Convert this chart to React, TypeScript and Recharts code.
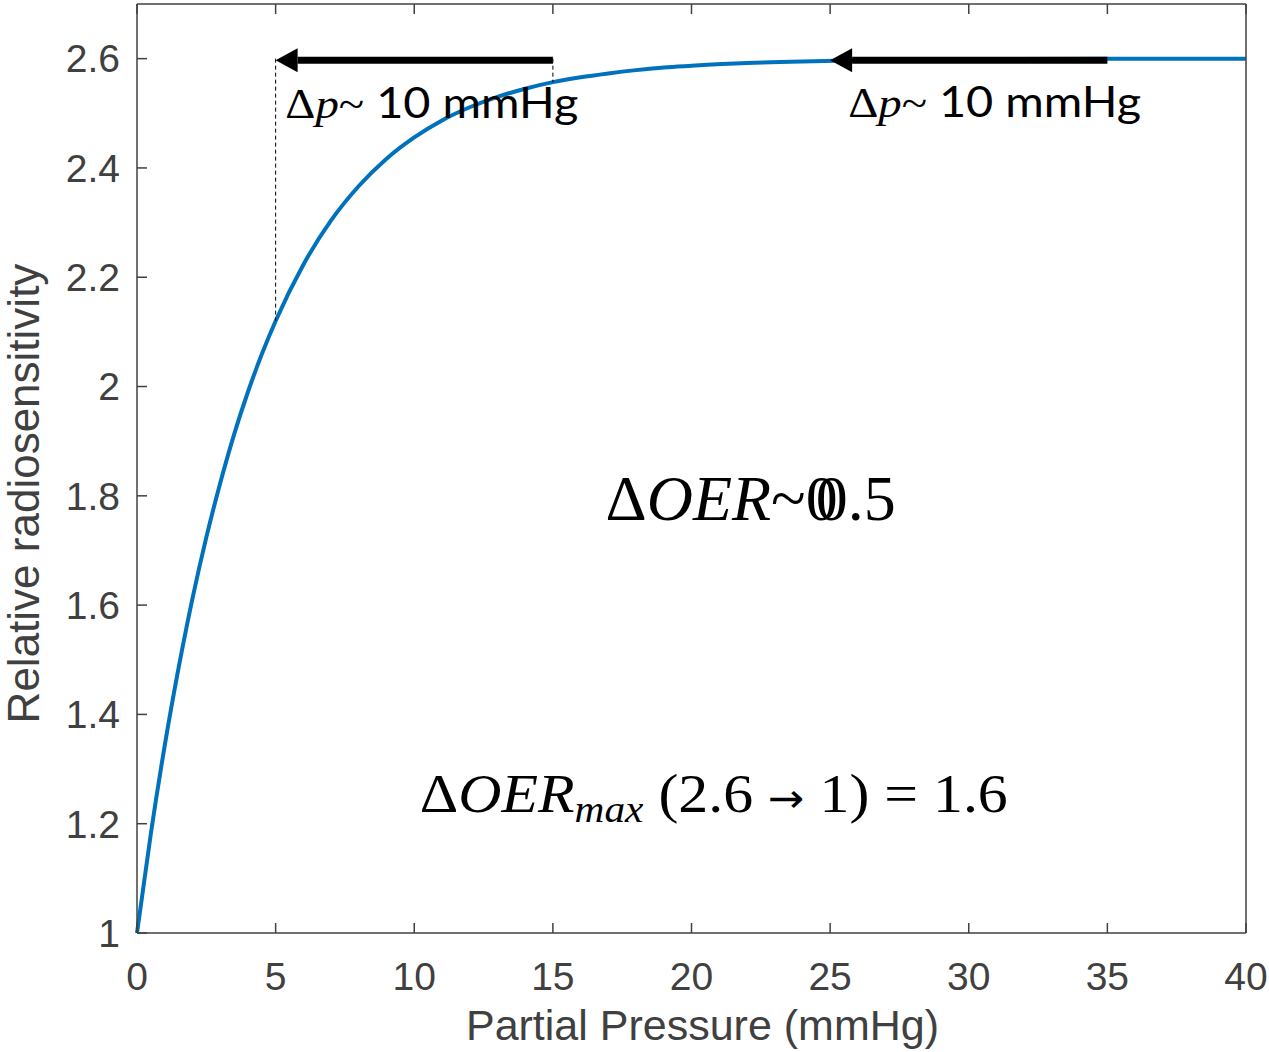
import { LineChart, Line, XAxis, YAxis, ReferenceLine, ReferenceDot } from "recharts"

// values
const pressure = [0, 0.5, 1, 1.5, 2, 2.5, 3, 3.5, 4, 4.5, 5, 6, 7, 8, 9, 10, 11, 12, 13, 14, 15, 16, 17, 18, 19, 20, 22, 24, 26, 28, 30, 35, 40]
const sensitivity = [1, 1.182, 1.343, 1.485, 1.612, 1.724, 1.823, 1.912, 1.99, 2.059, 2.12, 2.223, 2.304, 2.367, 2.417, 2.456, 2.487, 2.511, 2.53, 2.545, 2.557, 2.566, 2.573, 2.579, 2.584, 2.587, 2.592, 2.595, 2.597, 2.598, 2.599, 2.6, 2.6]

const xTicks = [0, 5, 10, 15, 20, 25, 30, 35, 40]
const yTicks = [1, 1.2, 1.4, 1.6, 1.8, 2, 2.2, 2.4, 2.6]

// arrows: [from, to] in mmHg at the plateau level
const arrowFrom = [15, 35]
const arrowTo = [5, 25]
const plateau = 2.6

// dashed guides from plateau down to the curve
const guideP = [5, 15]
const guideR = [2.12, 2.557]

const AXIS = "#404040"
const SANS = "Liberation Sans, Arial, sans-serif"
const SERIF = "Liberation Serif, Times New Roman, serif"

const data = pressure.map((p, i) => ({ p, r: sensitivity[i] }))

function Arrow(props: any) {
  const { x1, y1, x2, y2 } = props
  const dir = x2 < x1 ? 1 : -1
  const head = 22
  return (
    <g>
      <line x1={x1} y1={y1 + 1.5} x2={x2 + dir * head} y2={y2 + 1.5} stroke="#000" strokeWidth={7} />
      <polygon
        points={`${x2},${y2 + 1.5} ${x2 + dir * head},${y2 - 10.5} ${x2 + dir * head},${y2 + 13.5}`}
        fill="#000"
      />
    </g>
  )
}

function DeltaP(props: any) {
  return (
    <text x={props.cx} y={props.cy} fontSize={43} fill="#000" textLength={293} lengthAdjust="spacingAndGlyphs">
      <tspan fontFamily={SERIF}>Δ</tspan>
      <tspan fontFamily={SERIF} fontStyle="italic">p</tspan>
      <tspan fontFamily={SERIF}>~</tspan>
      <tspan fontFamily="Lato, sans-serif"> 10 mmHg</tspan>
    </text>
  )
}

function DeltaOER(props: any) {
  return (
    <text x={props.cx} y={props.cy} fontSize={64} fill="#000" fontFamily={SERIF}>
      <tspan>Δ</tspan>
      <tspan fontStyle="italic">OER</tspan>
      <tspan>~0</tspan>
      <tspan dx={-22}>0.5</tspan>
    </text>
  )
}

function DeltaMax(props: any) {
  return (
    <text x={props.cx} y={props.cy} fontSize={55} fill="#000" fontFamily={SERIF} textLength={588} lengthAdjust="spacingAndGlyphs">
      <tspan>Δ</tspan>
      <tspan fontStyle="italic">OER</tspan>
      <tspan fontStyle="italic" fontSize={38} dy={10}>max</tspan>
      <tspan dy={-10}> (2.6 </tspan>
      <tspan fontFamily="DejaVu Sans, sans-serif" fontSize={40}>→</tspan>
      <tspan> 1) = 1.6</tspan>
    </text>
  )
}

export default function App() {
  const tickStyle = { fill: AXIS, fontSize: 39, fontFamily: SANS }
  return (
    <div>
      <style>{"body{margin:0;background:#fff}"}</style>
      <LineChart width={1269} height={1052} data={data} margin={{ top: 0, right: 0, bottom: 0, left: 0 }}>
        <XAxis
          dataKey="p"
          type="number"
          domain={[0, 40]}
          ticks={xTicks}
          interval={0}
          height={119}
          tickSize={-10}
          tickMargin={39}
          tick={tickStyle}
          stroke={AXIS}
          strokeWidth={1.5}
          label={{
            content: (p: any) => (
              <text
                x={p.viewBox.x + p.viewBox.width / 2 + 11}
                y={p.viewBox.y + 107}
                textAnchor="middle"
                fontSize={43}
                fontFamily={SANS}
                fill={AXIS}
              >
                Partial Pressure (mmHg)
              </text>
            ),
          }}
        />
        <XAxis
          xAxisId="top"
          orientation="top"
          dataKey="p"
          type="number"
          domain={[0, 40]}
          ticks={xTicks}
          interval={0}
          height={4}
          tickSize={-10}
          tickFormatter={() => ""}
          stroke={AXIS}
          strokeWidth={1.5}
        />
        <YAxis
          type="number"
          domain={[1, 2.7]}
          ticks={yTicks}
          interval={0}
          width={137}
          tickSize={-10}
          tickMargin={27}
          tick={tickStyle}
          stroke={AXIS}
          strokeWidth={1.5}
          label={{
            content: (p: any) => {
              const x = p.viewBox.x + 39
              const y = p.viewBox.y + p.viewBox.height / 2 + 25
              return (
                <text
                  x={x}
                  y={y}
                  transform={`rotate(-90, ${x}, ${y})`}
                  textAnchor="middle"
                  fontSize={44}
                  fontFamily={SANS}
                  fill={AXIS}
                >
                  Relative radiosensitivity
                </text>
              )
            },
          }}
        />
        <YAxis
          yAxisId="right"
          orientation="right"
          type="number"
          domain={[1, 2.7]}
          ticks={yTicks}
          interval={0}
          width={23}
          tickSize={-10}
          tickFormatter={() => ""}
          stroke={AXIS}
          strokeWidth={1.5}
        />
        <Line
          dataKey="r"
          type="monotone"
          stroke="#0072BD"
          strokeWidth={4}
          dot={false}
          isAnimationActive={false}
        />
        {guideP.map((p, i) => (
          <ReferenceLine
            key={`g${i}`}
            segment={[
              { x: p, y: plateau },
              { x: p, y: guideR[i] },
            ]}
            stroke="#000"
            strokeWidth={1}
            strokeDasharray="4 3"
          />
        ))}
        {arrowFrom.map((p, i) => (
          <ReferenceLine
            key={`a${i}`}
            segment={[
              { x: p, y: plateau },
              { x: arrowTo[i], y: plateau },
            ]}
            shape={(props: any) => <Arrow {...props} />}
          />
        ))}
        <ReferenceDot x={5.35} y={2.492} r={1} shape={(p: any) => <DeltaP {...p} />} />
        <ReferenceDot x={25.65} y={2.494} r={1} shape={(p: any) => <DeltaP {...p} />} />
        <ReferenceDot x={16.9} y={1.755} r={1} shape={(p: any) => <DeltaOER {...p} />} />
        <ReferenceDot x={10.2} y={1.221} r={1} shape={(p: any) => <DeltaMax {...p} />} />
      </LineChart>
    </div>
  )
}
